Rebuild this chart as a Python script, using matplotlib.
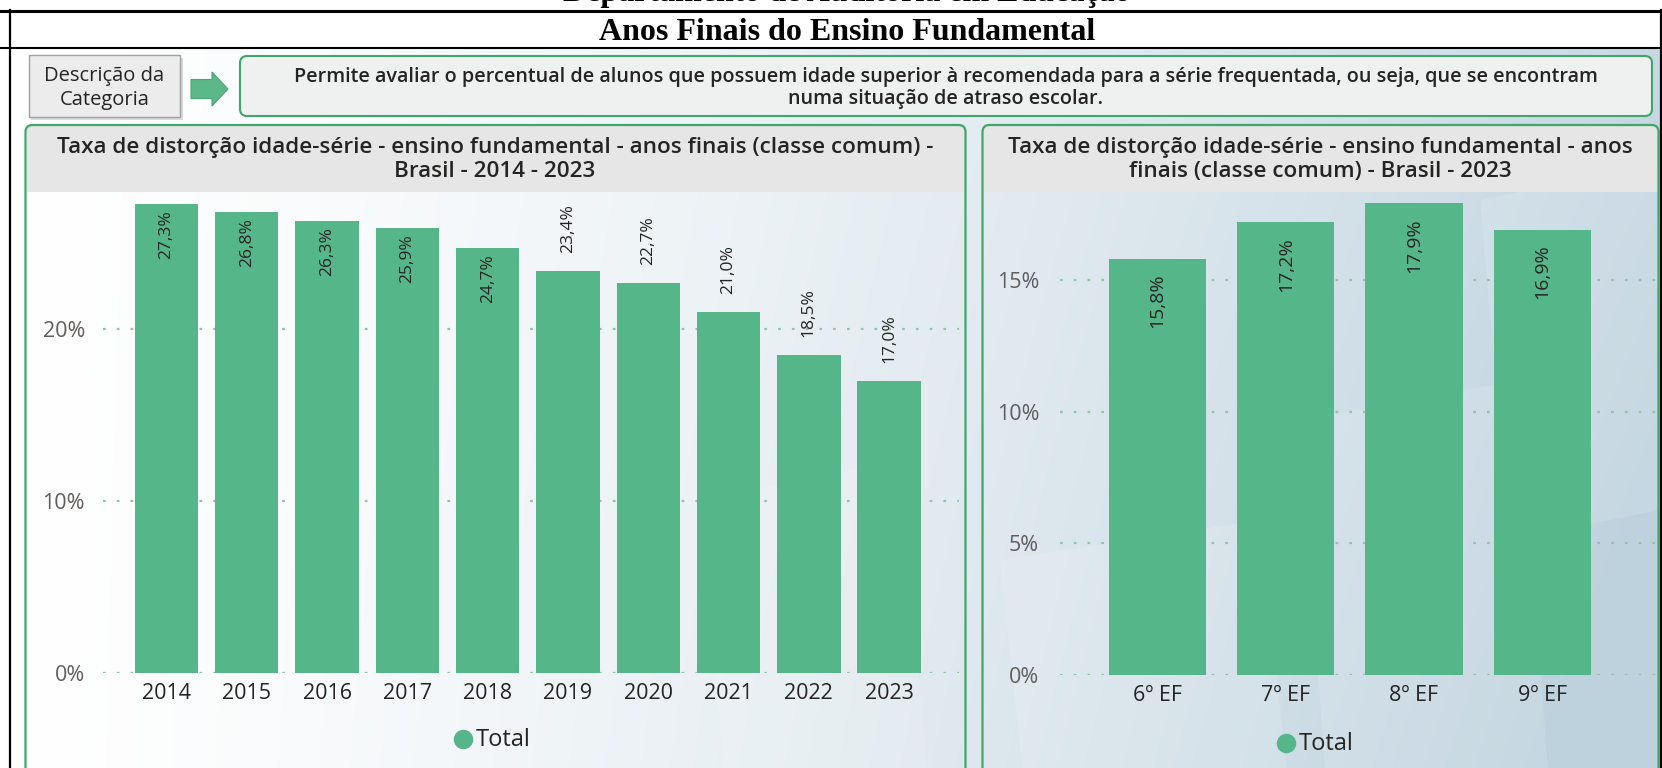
import numpy as np
import matplotlib
matplotlib.use("Agg")
import matplotlib.pyplot as plt
from matplotlib.patches import FancyBboxPatch, Rectangle, Polygon
from matplotlib.colors import to_rgb

# ---------------- data ----------------
years = ["2014", "2015", "2016", "2017", "2018", "2019", "2020", "2021", "2022", "2023"]
rate_by_year = [27.3, 26.8, 26.3, 25.9, 24.7, 23.4, 22.7, 21.0, 18.5, 17.0]
grades = ["6º EF", "7º EF", "8º EF", "9º EF"]
rate_by_grade_2023 = [15.8, 17.2, 17.9, 16.9]
left_yticks = [0, 10, 20]
right_yticks = [0, 5, 10, 15]
legend_label = "Total"

page_title_top = "Departamento de Auditoria em Educação"
page_title = "Anos Finais do Ensino Fundamental"
cat_label = "Descrição da\nCategoria"
description = ("Permite avaliar o percentual de alunos que possuem idade superior à recomendada para a série frequentada, ou seja, que se encontram\n"
               "numa situação de atraso escolar.")
left_title = "Taxa de distorção idade-série - ensino fundamental - anos finais (classe comum) -\nBrasil - 2014 - 2023"
right_title = "Taxa de distorção idade-série - ensino fundamental - anos\nfinais (classe comum) - Brasil - 2023"

# ---------------- style ----------------
W, H = 1662, 768
FONT = ["Open Sans", "DejaVu Sans"]
plt.rcParams['font.family'] = FONT
BAR = "#55b68a"
GREEN_BORDER = "#3fa66c"
GRID = "#8fc4a5"
TXT = "#252423"
AX_TXT = "#605e5c"

fig = plt.figure(figsize=(W / 100, H / 100), dpi=100)

# overlay axes in pixel coordinates
ov = fig.add_axes([0, 0, 1, 1], zorder=0)
ov.set_xlim(0, W)
ov.set_ylim(H, 0)
ov.axis("off")

# background gradient
nx, ny = 200, 100
xs = np.linspace(0, 1, nx)[None, :]
ys = np.linspace(0, 1, ny)[:, None]
t = np.clip(xs, 0, 1) ** 1.4 * (0.85 + 0.25 * ys)
t = np.clip(t, 0, 1)
c1 = np.array(to_rgb("#ffffff"))
c2 = np.array(to_rgb("#bed2de"))
img = (1 - t)[..., None] * c1 + t[..., None] * c2
ov.imshow(img, extent=[0, W, H, 48], aspect="auto", interpolation="bilinear", zorder=0)
# faint lighter diagonal shapes
for (x0, y0, w, h) in [(1000, 560, 260, 240), (1300, 420, 220, 380), (700, 500, 200, 300), (1480, 200, 200, 300)]:
    ov.add_patch(Polygon([(x0, y0), (x0 + w, y0 - 40), (x0 + w + 30, y0 + h), (x0 + 30, y0 + h + 40)],
                         closed=True, facecolor="white", alpha=0.12, edgecolor="none", zorder=0.5))
ov.add_patch(Rectangle((0, 0), W, 48, facecolor="white", edgecolor="none", zorder=1))

# page frame lines
ov.plot([0, W], [10.6, 10.6], color="black", lw=2.2, zorder=5)
ov.plot([0, W], [47.7, 47.7], color="black", lw=1.5, zorder=5)
ov.plot([9.5, 9.5], [10, H], color="black", lw=1.6, zorder=5)
ov.plot([1660.5, 1660.5], [10, H], color="black", lw=1.6, zorder=5)

ov.text(847, 1.5, page_title_top, ha="center", va="baseline", fontsize=23, fontweight="bold",
        family="Liberation Serif", color="black", zorder=6)
ov.text(847, 32.5, page_title, ha="center", va="center", fontsize=23, fontweight="bold",
        family="Liberation Serif", color="black", zorder=6)

# description row
ov.add_patch(Rectangle((31, 58), 152, 61.6, facecolor="#b9b9b9", edgecolor="none", alpha=0.5, zorder=2))
ov.add_patch(Rectangle((28.6, 55), 151.4, 61.6, facecolor="#ececec", edgecolor="#a0a0a0", lw=1, zorder=3))
ov.text(104.5, 88, cat_label, ha="center", va="center", fontsize=14.5, color=TXT,
        linespacing=1.25, zorder=4)
ov.add_patch(Polygon([(191, 79.5), (212, 79.5), (212, 72), (228, 89), (212, 106), (212, 98.6), (191, 98.6)],
                     closed=True, facecolor="#5cb888", edgecolor="#4aa575", lw=0.8, zorder=4))
ov.add_patch(FancyBboxPatch((240, 56), 1412, 60, boxstyle="round,pad=0,rounding_size=7",
                            facecolor="#eff1f1", edgecolor=GREEN_BORDER, lw=1.5, zorder=3))
ov.text(946, 88, description, ha="center", va="center", fontsize=14.2, fontweight="semibold",
        color=TXT, linespacing=1.15, zorder=4)

# panels
def panel(x0, x1, y0, y1, hb, title, tx):
    ov.add_patch(Rectangle((x0 + 1, y0 + 1), x1 - x0 - 2, hb - y0, facecolor="#e6e6e6",
                           edgecolor="none", zorder=2))
    ov.add_patch(FancyBboxPatch((x0, y0), x1 - x0, y1 - y0, boxstyle="round,pad=0,rounding_size=7",
                                facecolor="none", edgecolor=GREEN_BORDER, lw=1.6, zorder=3))
    ov.text(tx, (y0 + hb) / 2 + 1.5, title, ha="center", va="center", fontsize=16.2,
            fontweight="semibold", color=TXT, linespacing=1.22, zorder=4)

panel(25.5, 965.5, 125, 790, 191, left_title, 495)
panel(982.5, 1658.5, 125, 790, 191, right_title, 1320)

# legend
def legend(cx, cy):
    ov.scatter([cx], [cy], s=170, color=BAR, zorder=5)
    ov.text(cx + 13, cy + 1, legend_label, ha="left", va="center", fontsize=17, color=TXT, zorder=5)

legend(463, 739)
legend(1286, 743)

# ---------------- charts ----------------
def chart(rect, cats, vals, yticks, xlim, ylim, width, in_pad, out_pad, thresh, lab_fs, ypad):
    ax = fig.add_axes(rect, zorder=2)
    ax.patch.set_alpha(0)
    x = np.arange(len(cats))
    ax.bar(x, vals, width=width, color=BAR, zorder=3)
    ax.set_xlim(*xlim)
    ax.set_ylim(*ylim)
    ax.set_yticks(yticks)
    ax.set_yticklabels([f"{v}%" for v in yticks])
    ax.set_xticks(x)
    ax.set_xticklabels(cats)
    for s in ax.spines.values():
        s.set_visible(False)
    ax.tick_params(axis="y", length=0, pad=ypad, labelsize=15.5, labelcolor=AX_TXT)
    ax.tick_params(axis="x", length=0, pad=7, labelsize=15.5, labelcolor=TXT)
    ax.grid(axis="y", color=GRID, linestyle=(0, (1.2, 5)), lw=1.6, zorder=1)
    ax.set_axisbelow(True)
    for xi, v in zip(x, vals):
        lab = f"{v:.1f}%".replace(".", ",")
        if v >= thresh:
            ax.annotate(lab, (xi, v), xytext=(0, -in_pad), textcoords="offset pixels",
                        rotation=90, ha="center", va="top", fontsize=lab_fs, color=TXT, zorder=5)
        else:
            ax.annotate(lab, (xi, v), xytext=(0, out_pad), textcoords="offset pixels",
                        rotation=90, ha="center", va="bottom", fontsize=lab_fs, color=TXT, zorder=5)
    return ax

chart([103 / W, 1 - 673 / H, (959 - 103) / W, (673 - 190) / H], years, rate_by_year, left_yticks,
      (-0.79, 9.87), (0, 28.1), 0.79, 6, 18, 24.0, 12.5, 13)
chart([1060 / W, 1 - 675.2 / H, (1659 - 1060) / W, (675.2 - 191) / H], grades, rate_by_grade_2023, right_yticks,
      (-0.76, 3.91), (0, 18.37), 0.76, 15, 18, 0.0, 14, 15)

fig.savefig("out.png", dpi=100)
